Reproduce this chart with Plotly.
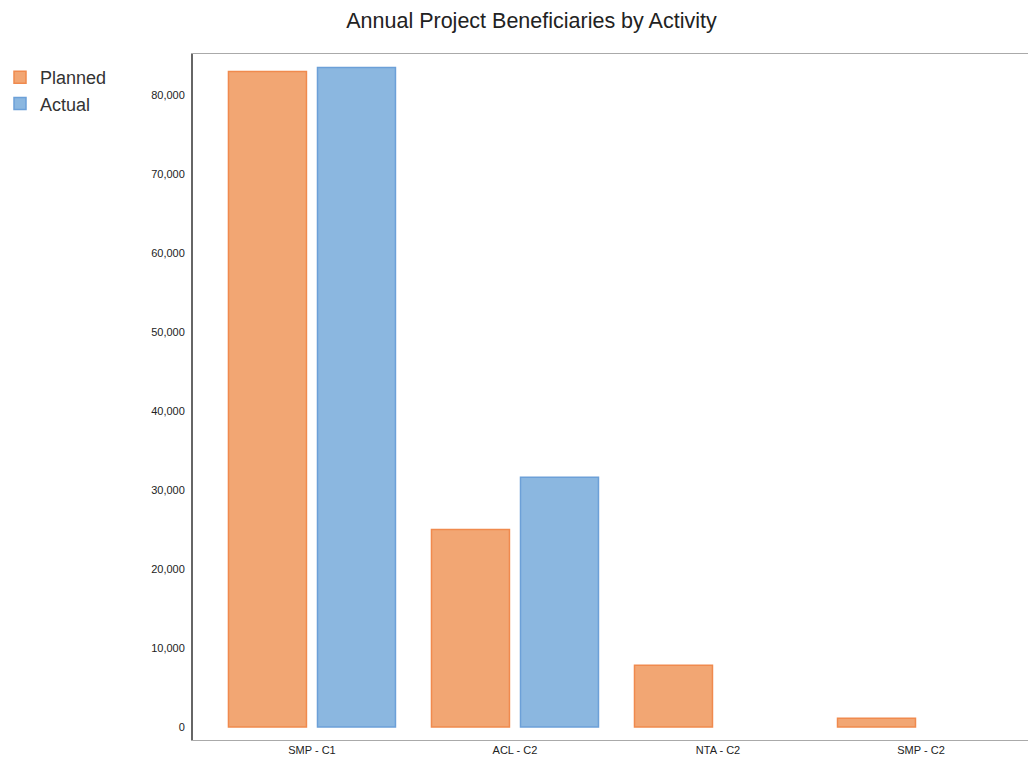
import plotly.graph_objects as go

categories = ["SMP - C1", "ACL - C2", "NTA - C2", "SMP - C2"]
planned = [83000, 25000, 7800, 1100]
actual = [83500, 31600, None, None]
tick_vals = [0, 10000, 20000, 30000, 40000, 50000, 60000, 70000, 80000]

W, H = 1028, 764
L, R, T, B = 193, 0, 54, 24

fig = go.Figure()
fig.add_trace(go.Bar(
    name="Planned", x=categories, y=planned,
    marker=dict(color="rgb(242,166,115)", line=dict(color="rgb(240,138,78)", width=1.5)),
))
fig.add_trace(go.Bar(
    name="Actual", x=categories, y=actual,
    marker=dict(color="rgb(139,183,224)", line=dict(color="rgb(108,160,216)", width=1.5)),
))

fig.update_layout(
    width=W, height=H,
    margin=dict(l=L, r=R, t=T, b=B, autoexpand=False),
    paper_bgcolor="white", plot_bgcolor="white",
    font=dict(family="Liberation Sans, Arial, sans-serif", color="#222"),
    title=dict(text="Annual Project Beneficiaries by Activity", xref="container", x=0.517,
               xanchor="center", yref="container", y=1 - 20 / H, yanchor="middle",
               font=dict(size=21.5, color="#222")),
    barmode="group", bargap=0.123, bargroupgap=0.124,
    showlegend=True,
    legend=dict(xref="container", yref="container", x=0.0, y=1 - 59 / H,
                xanchor="left", yanchor="top", font=dict(size=18, color="#333"),
                bgcolor="rgba(0,0,0,0)", itemwidth=30, tracegroupgap=0),
    xaxis=dict(range=[-0.586, 3.527], showline=True, linecolor="#aaaaaa", linewidth=1,
               mirror=True, showgrid=False, zeroline=False, ticks="",
               tickfont=dict(size=11, color="#222"), automargin=False, fixedrange=True),
    yaxis=dict(range=[-1650, 85200], tickvals=tick_vals, tickformat=",",
               showline=True, linecolor="#666666", linewidth=2, showgrid=False,
               zeroline=False, ticks="", ticklabelstandoff=4,
               tickfont=dict(size=11, color="#222"), automargin=False),
)

fig.write_html("out.html")
